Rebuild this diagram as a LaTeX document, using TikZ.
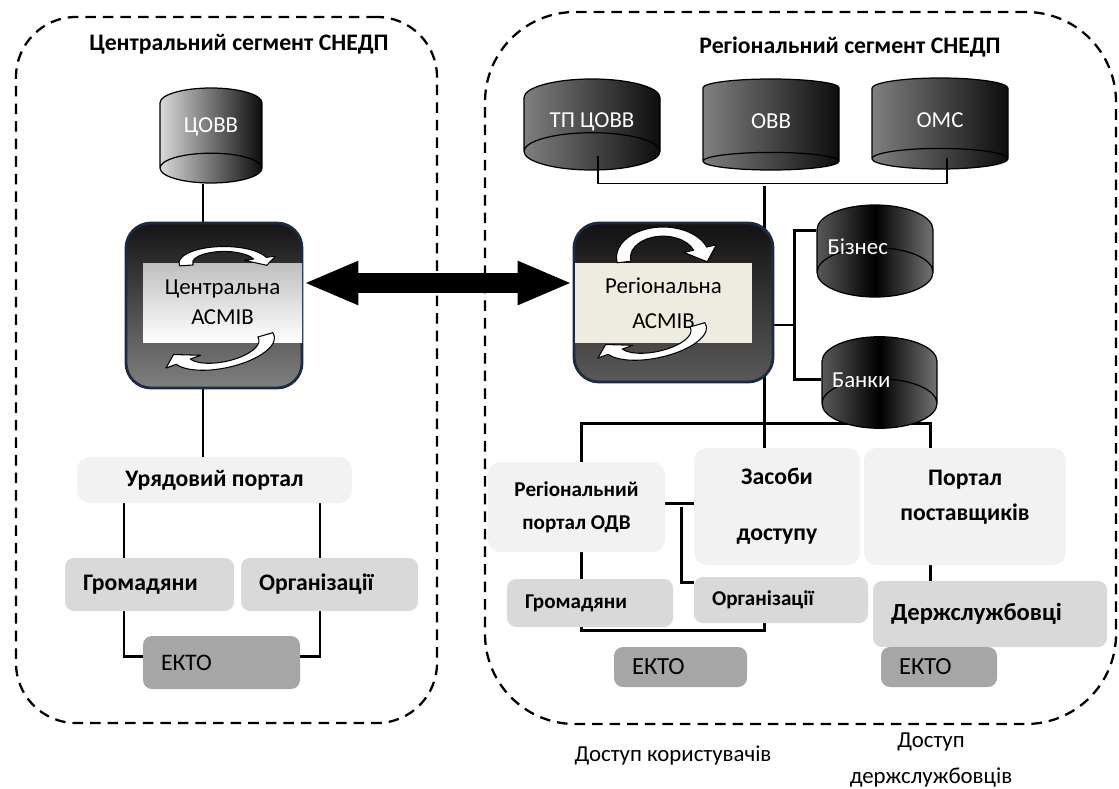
\documentclass[tikz,border=0pt]{standalone}
\usepackage{fontspec}
\setmainfont{Carlito}
\usetikzlibrary{arrows.meta, positioning, shapes.geometric, backgrounds}

\definecolor{frameblue}{HTML}{1C2A44}
\definecolor{portalfill}{HTML}{F2F2F2}
\definecolor{groupfill}{HTML}{D9D9D9}
\definecolor{ektofill}{HTML}{A6A6A6}
\definecolor{bandfill}{HTML}{EEECE1}

\tikzset{
  segframe/.style={draw, dashed, dash pattern=on 6pt off 4pt, line width=1.3pt},
  segtitle/.style={font=\bfseries\fontsize{13.5}{15}\selectfont},
  database/.style={cylinder, shape border rotate=270, anchor=shape center, draw, line width=0.7pt, inner sep=0pt,
    text=white, text height=1.6ex, text depth=0.4ex, font=\fontsize{13}{15}\selectfont},
  asmiv/.style={draw=frameblue, line width=1.6pt, rounded corners=0.5cm},
  asmivband/.style={inner sep=0pt, align=center},
  portalbox/.style={fill=portalfill, rounded corners=0.25cm, align=center},
  groupbox/.style={fill=groupfill, rounded corners=0.18cm, inner xsep=0.36cm, align=left},
  ektobox/.style={fill=ektofill, rounded corners=0.18cm, inner xsep=0.36cm, align=left,
    font=\fontsize{13.5}{15}\selectfont},
  conn/.style={line width=1.7pt},
  thinconn/.style={line width=0.7pt},
  bigarrow/.style={line width=0.4cm,
    {Triangle[length=1.1cm,width=0.8cm]}-{Triangle[length=1.1cm,width=0.8cm]}},
  accesslabel/.style={align=center, font=\fontsize{13}{20}\selectfont},
  cycarrow/.pic={
    \draw[fill=white, line width=0.6pt, line join=round]
      (190:1) arc[start angle=190, end angle=20, radius=1]
      -- (20:1.22) -- (0.95,-0.14) -- (20:0.48) -- (20:0.7)
      arc[start angle=20, end angle=190, radius=0.7] -- cycle;
  }
}

\begin{document}
\begin{tikzpicture}
    \useasboundingbox (0,0) rectangle (22.38,-15.76);

    % Segments
    \node[segframe, rounded corners=1.2cm, minimum width=8.42cm, minimum height=14.12cm] (cseg) at (4.53,-7.4) {};
    \node[segframe, rounded corners=1.8cm, minimum width=12.62cm, minimum height=14.24cm] (rseg) at (16.01,-7.36) {};
    \node[segtitle] (ctitle) at (4.78,-0.88) {Центральний сегмент СНЕДП};
    \node[segtitle] (rtitle) at (17.0,-0.94) {Регіональний сегмент СНЕДП};

    % Databases
    \node[database, aspect=0.55, minimum width=2.04cm, minimum height=1.9cm, left color=black!15, right color=black!95] (covv) at (4.22,-2.71) {ЦОВВ};
    \node[database, aspect=0.44, minimum width=2.72cm, minimum height=1.82cm, left color=black!50, right color=black!95] (tpcovv) at (11.84,-2.49) {\raisebox{-0.16cm}{ТП ЦОВВ}};
    \node[database, aspect=0.44, minimum width=2.72cm, minimum height=1.82cm, left color=black!50, right color=black!95] (ovv) at (15.42,-2.49) {\raisebox{-0.08cm}{ОВВ}};
    \node[database, aspect=0.44, minimum width=2.72cm, minimum height=1.82cm, left color=black!50, right color=black!95] (omc) at (18.8,-2.47) {\raisebox{-0.08cm}{ОМС}};
    \node[database, aspect=0.52, minimum width=2.32cm, minimum height=1.84cm, text width=1.9cm, align=left, left color=black!65, right color=black!55, middle color=black] (biznes) at (17.5,-5.02) {\raisebox{-0.22cm}{Бізнес}};
    \node[database, aspect=0.52, minimum width=2.3cm, minimum height=1.82cm, text width=1.9cm, align=left, left color=black!65, right color=black!55, middle color=black] (banky) at (17.59,-7.65) {\raisebox{-0.26cm}{Банки}};

    % ASMIV nodes
    \node[asmiv, minimum width=3.52cm, minimum height=3.3cm, top color=black!92, bottom color=black!50] (casmiv) at (4.28,-6.11) {};
    \node[asmivband, minimum width=3.18cm, minimum height=1.58cm, top color=black!25, bottom color=white, font=\fontsize{13}{17}\selectfont] (cband) at (4.45,-6.05) {Центральна\\АСМІВ};
    \node[asmiv, minimum width=3.98cm, minimum height=3.18cm, top color=black!93, bottom color=black!65] (rasmiv) at (13.47,-6.05) {};
    \node[asmivband, minimum width=3.54cm, minimum height=1.6cm, fill=bandfill, font=\fontsize{13}{20}\selectfont] (rband) at (13.27,-6.06) {Регіональна\\АСМІВ};
    \pic[xscale=0.9, yscale=0.33] at (4.48,-5.26) {cycarrow};
    \pic[rotate=192, xscale=1.05, yscale=0.42] at (4.46,-6.94) {cycarrow};
    \pic[xscale=0.93, yscale=0.61] at (13.26,-5.15) {cycarrow};
    \pic[rotate=192, xscale=1.05, yscale=0.42] at (13.1,-6.74) {cycarrow};

    % Central portal and users
    \node[portalbox, minimum width=5.5cm, minimum height=0.92cm, font=\bfseries\fontsize{13.5}{16}\selectfont] (uport) at (4.29,-9.6) {Урядовий портал};
    \node[groupbox, minimum width=3.38cm, text width=2.66cm, minimum height=1.06cm, font=\bfseries\fontsize{13.5}{16}\selectfont] (gromc) at (2.99,-11.69) {Громадяни};
    \node[groupbox, minimum width=3.54cm, text width=2.82cm, minimum height=1.06cm, font=\bfseries\fontsize{13.5}{16}\selectfont] (orgc) at (6.59,-11.69) {Організації};
    \node[ektobox, text width=2.42cm, minimum height=1.06cm] (ektoc) at (4.43,-13.25) {ЕКТО};

    % Regional portals and users
    \node[portalbox, minimum width=3.54cm, minimum height=1.8cm, font=\bfseries\fontsize{12}{19}\selectfont] (rport) at (11.53,-10.14) {Регіональний\\портал ОДВ};
    \node[portalbox, minimum width=3.32cm, minimum height=2.34cm, font=\bfseries\fontsize{13.5}{32}\selectfont] (zasoby) at (15.54,-10.13) {Засоби\\доступу};
    \node[portalbox, minimum width=4.04cm, minimum height=2.34cm, font=\bfseries\fontsize{13.5}{20}\selectfont] (pport) at (19.3,-10.13) {Портал\\поставщиків\\[-0.25cm]\mbox{}};
    \node[groupbox, minimum width=3.32cm, text width=2.6cm, minimum height=0.96cm, font=\bfseries\fontsize{12}{14}\selectfont] (gromr) at (11.8,-12.06) {Громадяни};
    \node[groupbox, text width=2.76cm, minimum height=0.92cm, font=\bfseries\fontsize{12}{14}\selectfont] (orgr) at (15.62,-12.0) {Організації};
    \node[groupbox, text width=3.96cm, minimum height=1.32cm, font=\bfseries\fontsize{14}{16}\selectfont] (derzh) at (19.8,-12.28) {Держслужбовці};
    \node[ektobox, text width=1.94cm, minimum height=0.8cm, font=\fontsize{14}{16}\selectfont] (ektor1) at (13.61,-13.34) {ЕКТО};
    \node[ektobox, text width=1.6cm, minimum height=0.8cm, font=\fontsize{14}{16}\selectfont] (ektor2) at (18.78,-13.34) {ЕКТО};

    % Access labels
    \node[accesslabel] (lusers) at (13.46,-15.1) {Доступ користувачів};
    \node[accesslabel] (lcivil) at (18.62,-15.2) {Доступ\\держслужбовців};

    % Thin bus of the regional databases
    \draw[thinconn] ([xshift=0.12cm,yshift=0.3cm]tpcovv.south) -- ([xshift=0.12cm,yshift=-0.26cm]tpcovv.south) -| ([xshift=0.14cm,yshift=0.24cm]omc.south);

    % Links
    \draw[bigarrow] ([yshift=0.45cm]casmiv.east) -- ([yshift=0.45cm]casmiv.east -| rasmiv.west);
    \begin{scope}[on background layer]
        \draw[conn] ([xshift=-0.16cm]covv.south) -- ([xshift=-0.16cm]covv.south |- casmiv.north);
        \draw[conn] ([xshift=-0.22cm]casmiv.south) -- ([xshift=-0.22cm]casmiv.south |- uport.north);
        \draw[conn] ([xshift=-0.51cm]gromc.north) -- ([xshift=-0.51cm]gromc.north |- uport.south);
        \draw[conn] ([xshift=-0.19cm]orgc.north) -- ([xshift=-0.19cm]orgc.north |- uport.south);
        \draw[conn] ([xshift=-0.51cm]gromc.south) |- ([yshift=0.13cm]ektoc.west);
        \draw[conn] ([xshift=-0.19cm]orgc.south) |- ([yshift=0.13cm]ektoc.east);

        \coordinate (trunk) at (15.28,-3.72);
        \draw[conn] (trunk) -- (trunk |- zasoby.north);
        \draw[conn] ([xshift=0.09cm]rport.north) |- ([xshift=-0.7cm,yshift=0.48cm]pport.north) -- ([xshift=-0.7cm]pport.north);
        \draw[conn] ([yshift=-0.45cm]rasmiv.east) -- ++(0.4,0);
        \draw[conn] ([yshift=0.16cm]biznes.west) -| ([xshift=0.4cm,yshift=-0.45cm]rasmiv.east) |- ([yshift=-0.19cm]banky.west);
        \draw[conn] ([yshift=0.08cm]rport.east) -- ([yshift=0.08cm]rport.east -| zasoby.west);
        \draw[conn] ([xshift=0.32cm]rport.east) |- ([yshift=0.36cm]orgr.west);
        \draw[conn] ([xshift=0.09cm]rport.south) -- ([xshift=0.09cm]rport.south |- gromr.north);
        \draw[conn] ([xshift=0.09cm]rport.south |- gromr.south) -- ++(0,-0.06) -| (trunk |- orgr.south);
        \draw[conn] ([xshift=-0.7cm]pport.south) -- ([xshift=-0.7cm]pport.south |- derzh.north);
    \end{scope}
\end{tikzpicture}
\end{document}
